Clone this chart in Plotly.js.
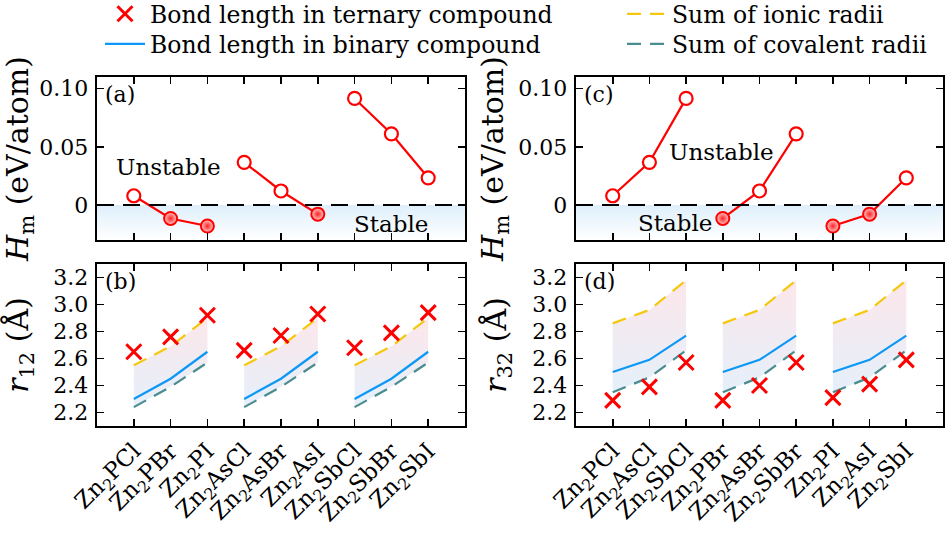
<!DOCTYPE html>
<html>
<head>
<meta charset="utf-8">
<script src="https://cdn.plot.ly/plotly-3.0.1.min.js"></script>
<style>html,body{margin:0;padding:0;background:#fff;}#chart{width:947px;height:537px;}</style>
</head>
<body>
<div id="chart"></div>
<script>
// ---------- data ----------
const labelsA = ['Zn<sub>2</sub>PCl','Zn<sub>2</sub>PBr','Zn<sub>2</sub>PI','Zn<sub>2</sub>AsCl','Zn<sub>2</sub>AsBr','Zn<sub>2</sub>AsI','Zn<sub>2</sub>SbCl','Zn<sub>2</sub>SbBr','Zn<sub>2</sub>SbI'];
const labelsC = ['Zn<sub>2</sub>PCl','Zn<sub>2</sub>AsCl','Zn<sub>2</sub>SbCl','Zn<sub>2</sub>PBr','Zn<sub>2</sub>AsBr','Zn<sub>2</sub>SbBr','Zn<sub>2</sub>PI','Zn<sub>2</sub>AsI','Zn<sub>2</sub>SbI'];
const hmA = [0.008, -0.0115, -0.018, 0.0367, 0.0121, -0.0078, 0.0916, 0.0612, 0.0234];
const hmC = [0.008, 0.0367, 0.0916, -0.0115, 0.0121, 0.0612, -0.018, -0.0078, 0.0234];
const r12Ternary  = [2.65, 2.76, 2.92, 2.66, 2.77, 2.93, 2.68, 2.79, 2.94];
const r12Binary   = [2.30, 2.45, 2.65, 2.30, 2.45, 2.65, 2.30, 2.45, 2.65];
const r12Ionic    = [2.55, 2.69, 2.90, 2.55, 2.69, 2.90, 2.55, 2.69, 2.90];
const r12Covalent = [2.24, 2.39, 2.57, 2.24, 2.39, 2.57, 2.24, 2.39, 2.57];
const r32Ternary  = [2.29, 2.39, 2.57, 2.29, 2.40, 2.57, 2.31, 2.41, 2.59];
const r32Binary   = [2.50, 2.59, 2.77, 2.50, 2.59, 2.77, 2.50, 2.59, 2.77];
const r32Ionic    = [2.86, 2.96, 3.18, 2.86, 2.96, 3.18, 2.86, 2.96, 3.18];
const r32Covalent = [2.35, 2.46, 2.66, 2.35, 2.46, 2.66, 2.35, 2.46, 2.66];
const hmTickVals = [0, 0.05, 0.10];
const hmTickText = ['0', '0.05', '0.10'];
const rTickVals = [2.2, 2.4, 2.6, 2.8, 3.0, 3.2];
const rTickText = ['2.2', '2.4', '2.6', '2.8', '3.0', '3.2'];

// ---------- styling ----------
const FONT = '"DejaVu Serif", serif';
const RED = '#ff0000', BLUE = '#0c98f5', YELLOW = '#f4c80c', TEAL = '#4a8c8f';
const idx = [0,1,2,3,4,5,6,7,8];
const groups = [[0,1,2],[3,4,5],[6,7,8]];

function withGaps(arr) {
  const x = [], y = [];
  groups.forEach((g, gi) => {
    g.forEach(i => { x.push(i); y.push(arr[i]); });
    if (gi < groups.length - 1) { x.push(null); y.push(null); }
  });
  return {x, y};
}

const traces = [];

function hmPanel(vals, xa, ya) {
  traces.push({x:[-1,9,9,-1,-1], y:[0,0,-0.03,-0.03,0], xaxis:xa, yaxis:ya, mode:'none', fill:'toself',
    fillgradient:{type:'vertical', colorscale:[[0,'rgba(255,255,255,1)'],[1,'rgba(222,239,251,1)']]},
    hoverinfo:'skip', showlegend:false});
  const l = withGaps(vals);
  traces.push({x:l.x, y:l.y, xaxis:xa, yaxis:ya, mode:'lines', line:{color:RED, width:2.2}, showlegend:false, hoverinfo:'skip'});
  const px = [], py = [], nx = [], ny = [];
  idx.forEach(i => { if (vals[i] >= 0) { px.push(i); py.push(vals[i]); } else { nx.push(i); ny.push(vals[i]); } });
  traces.push({x:px, y:py, xaxis:xa, yaxis:ya, mode:'markers', marker:{symbol:'circle', size:13, color:'white', line:{color:RED, width:2.2}}, showlegend:false});
  traces.push({x:nx, y:ny, xaxis:xa, yaxis:ya, mode:'markers', marker:{symbol:'circle', size:13, color:'#ffd0d0', gradient:{type:'radial', color:'#ff2020'}, line:{color:RED, width:2}}, showlegend:false});
}

function rPanel(tern, bin, ion, cov, xa, ya, withLegend) {
  groups.forEach(g => {
    const fx = [g[0], g[1], g[2], g[2], g[1], g[0]];
    const fy = [ion[g[0]], ion[g[1]], ion[g[2]], cov[g[2]], cov[g[1]], cov[g[0]]];
    traces.push({x:fx, y:fy, xaxis:xa, yaxis:ya, mode:'none', fill:'toself',
      fillgradient:{type:'vertical', colorscale:[[0,'rgba(226,238,250,0.9)'],[1,'rgba(252,228,232,0.9)']]},
      hoverinfo:'skip', showlegend:false});
  });
  const c = withGaps(cov), b = withGaps(bin), io = withGaps(ion);
  traces.push({x:io.x, y:io.y, xaxis:xa, yaxis:ya, mode:'lines', name:'Sum of ionic radii',
    line:{color:YELLOW, width:2.2, dash:'14px,9px'}, showlegend:withLegend, legend:'legend2'});
  traces.push({x:c.x, y:c.y, xaxis:xa, yaxis:ya, mode:'lines', name:'Sum of covalent radii',
    line:{color:TEAL, width:2.2, dash:'14px,9px'}, showlegend:withLegend, legend:'legend4'});
  traces.push({x:b.x, y:b.y, xaxis:xa, yaxis:ya, mode:'lines', name:'Bond length in binary compound',
    line:{color:BLUE, width:2.2}, showlegend:withLegend, legend:'legend3'});
  traces.push({x:idx, y:tern, xaxis:xa, yaxis:ya, mode:'markers', name:'Bond length in ternary compound',
    marker:{symbol:'x-thin', size:15, color:RED, line:{color:RED, width:3}}, showlegend:withLegend, legend:'legend'});
}

hmPanel(hmA, 'x', 'y');
rPanel(r12Ternary, r12Binary, r12Ionic, r12Covalent, 'x2', 'y2', true);
hmPanel(hmC, 'x3', 'y3');
rPanel(r32Ternary, r32Binary, r32Ionic, r32Covalent, 'x4', 'y4', false);

const W = 947, H = 537;
const px2x = p => p / W, px2y = p => 1 - p / H;
const domL = [px2x(97), px2x(465)], domR = [px2x(576), px2x(943)];
const domTop = [px2y(240), px2y(77)], domBot = [px2y(426), px2y(264)];
const TICK = 22;

function xAxis(dom, anchor, labels, show) {
  return {domain:dom, anchor:anchor, range:[-1, 9], tickmode:'array', tickvals:idx, ticktext:labels,
    showticklabels:show, tickangle:-45, ticks:'inside', ticklen:7, tickwidth:1.6, tickcolor:'#000',
    showline:true, linewidth:2.4, linecolor:'#000', mirror:'ticks', showgrid:false, zeroline:false,
    tickfont:{family:FONT, size:23, color:'#000'}};
}
function yAxis(dom, anchor, range, vals, text, title, standoff) {
  return {domain:dom, anchor:anchor, range:range, tickmode:'array', tickvals:vals, ticktext:text,
    ticks:'inside', ticklen:7, tickwidth:1.6, tickcolor:'#000', showline:true, linewidth:2.4, linecolor:'#000',
    mirror:'ticks', showgrid:false, zeroline:false, ticklabelstandoff:2,
    tickfont:{family:FONT, size:TICK, color:'#000'},
    title:{text:title, standoff:standoff, font:{family:FONT, size:30, color:'#000'}}};
}

const ann = [];
function txt(t, x, y, xref, yref, size, extra) {
  ann.push(Object.assign({text:t, x:x, y:y, xref:xref, yref:yref, showarrow:false,
    font:{family:FONT, size:size, color:'#000'}}, extra || {}));
}
txt('(a)', 0, 1, 'x domain', 'y domain', 22, {xanchor:'left', yanchor:'top', xshift:6, yshift:-3});
txt('(b)', 0, 1, 'x2 domain', 'y2 domain', 22, {xanchor:'left', yanchor:'top', xshift:6, yshift:-3});
txt('(c)', 0, 1, 'x3 domain', 'y3 domain', 22, {xanchor:'left', yanchor:'top', xshift:6, yshift:-3});
txt('(d)', 0, 1, 'x4 domain', 'y4 domain', 22, {xanchor:'left', yanchor:'top', xshift:6, yshift:-3});
txt('Unstable', 0.95, 0.033, 'x', 'y', 23);
txt('Stable', 6.98, -0.0165, 'x', 'y', 23);
txt('Unstable', 2.96, 0.046, 'x3', 'y3', 23);
txt('Stable', 1.69, -0.0156, 'x3', 'y3', 23);

function leg(xpx, ypx) {
  return {x:px2x(xpx), y:px2y(ypx), xanchor:'left', yanchor:'middle', orientation:'v',
    bgcolor:'rgba(0,0,0,0)', font:{family:FONT, size:23.5, color:'#000'}, tracegroupgap:0, itemwidth:40};
}

const HM_TITLE = '<i>H</i><sub>m</sub> (eV/atom)';
const layout = {
  width:W, height:H, margin:{l:0, r:0, t:0, b:0, autoexpand:false}, paper_bgcolor:'#fff', plot_bgcolor:'rgba(0,0,0,0)',
  font:{family:FONT, size:TICK, color:'#000'},
  xaxis: xAxis(domL, 'y', labelsA, false),
  yaxis: yAxis(domTop, 'x', [-0.03, 0.11], hmTickVals, hmTickText, HM_TITLE, 6),
  xaxis2: xAxis(domL, 'y2', labelsA, true),
  yaxis2: yAxis(domBot, 'x2', [2.1, 3.3], rTickVals, rTickText, '<i>r</i><sub>12</sub> (Å)', 17),
  xaxis3: xAxis(domR, 'y3', labelsC, false),
  yaxis3: yAxis(domTop, 'x3', [-0.03, 0.11], hmTickVals, hmTickText, HM_TITLE, 6),
  xaxis4: xAxis(domR, 'y4', labelsC, true),
  yaxis4: yAxis(domBot, 'x4', [2.1, 3.3], rTickVals, rTickText, '<i>r</i><sub>32</sub> (Å)', 17),
  shapes: [
    {type:'line', xref:'x', yref:'y', x0:-1, x1:9, y0:0, y1:0, line:{color:'#000', width:2, dash:'17px,9px'}},
    {type:'line', xref:'x3', yref:'y3', x0:-1, x1:9, y0:0, y1:0, line:{color:'#000', width:2, dash:'17px,9px'}}
  ],
  annotations: ann,
  legend: leg(100, 14),
  legend3: leg(100, 44),
  legend2: leg(622, 14),
  legend4: leg(622, 44),
  showlegend:true
};

Plotly.newPlot('chart', traces, layout, {displayModeBar:false, staticPlot:true});
</script>
</body>
</html>
